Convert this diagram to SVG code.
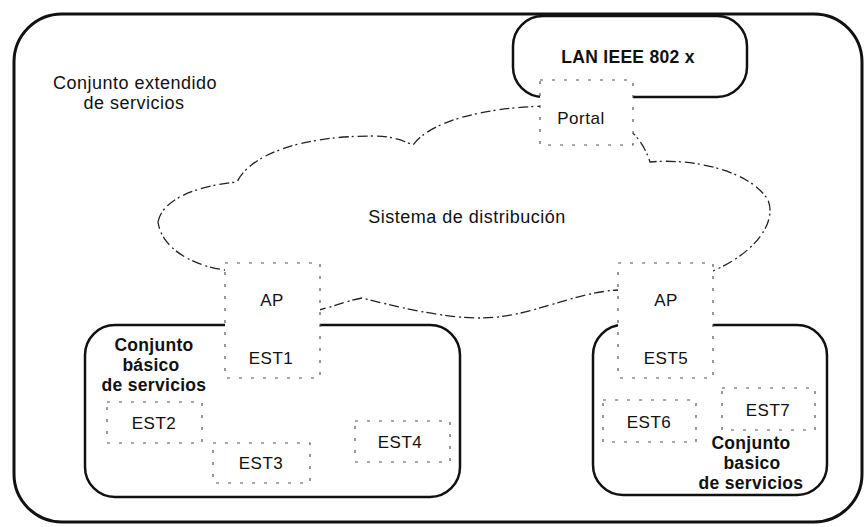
<svg xmlns="http://www.w3.org/2000/svg" width="864" height="527" viewBox="0 0 864 527">
<style>
.frame{fill:none;stroke:#111;stroke-width:3}
.box{fill:#fff;stroke:#111;stroke-width:2.5}
.cloud{fill:#fff;stroke:#222;stroke-width:1.3;stroke-dasharray:10 3 2 4}
.sta{fill:#fff;stroke:#555;stroke-width:1.2;stroke-dasharray:3 9}
.sta2{fill:none;stroke:#555;stroke-width:1.2;stroke-dasharray:3 9}
text{font-family:"Liberation Sans",Arial,sans-serif;fill:#111;text-anchor:middle;letter-spacing:0.5px}
.t18{font-size:18px}
.t17{font-size:17px}
.b{font-weight:bold;font-size:17.5px;letter-spacing:0.3px}
</style>
<rect width="864" height="527" fill="#fff"/>
<g id="ess">
<rect class="frame" x="14" y="14" width="848" height="508" rx="48" ry="48"/>
<text class="t18" x="135" y="89">Conjunto extendido</text>
<text class="t18" x="134" y="109">de servicios</text>
</g>
<g id="lan">
<rect class="box" x="513" y="16" width="234" height="81" rx="30" ry="30"/>
<text class="b" x="628" y="63">LAN IEEE 802 x</text>
</g>
<g id="ds">
<path class="cloud" d="M158,222 C162,200 195,186 237,182 C250,155 300,136 373,136 C390,136 402,140 413,145 C430,122 480,108 545,106 C610,104 640,130 650,162 C690,158 750,170 768,200 C778,225 750,255 715,270 C690,285 650,288 618,290 C570,293 530,318 480,318 C440,318 390,305 362,298 C350,300 335,306 319,310 L225,270 C195,266 162,250 158,222 Z"/>
<text class="t18" x="467" y="223">Sistema de distribución</text>
</g>
<g id="bss1">
<rect class="box" x="85" y="325" width="375" height="172" rx="30" ry="30"/>
<text class="b" x="154" y="351">Conjunto</text>
<text class="b" x="151" y="371">básico</text>
<text class="b" x="154" y="391">de servicios</text>
</g>
<g id="bss2">
<rect class="box" x="593" y="325" width="234" height="170" rx="30" ry="30"/>
<text class="b" x="751" y="449">Conjunto</text>
<text class="b" x="752" y="469">basico</text>
<text class="b" x="751" y="489">de servicios</text>
</g>
<g id="portal">
<rect class="sta" x="540" y="80" width="93" height="65"/>
<text class="t17" x="581" y="124">Portal</text>
</g>
<g id="ap1">
<rect class="sta" x="225" y="263" width="95" height="115"/>
<text class="t17" x="272" y="306">AP</text>
<text class="t17" x="271" y="364">EST1</text>
</g>
<g id="ap2">
<rect class="sta" x="618" y="263" width="95" height="115"/>
<text class="t17" x="666" y="306">AP</text>
<text class="t17" x="666" y="364">EST5</text>
</g>
<g id="est2">
<rect class="sta2" x="107" y="402" width="95" height="41"/>
<text class="t17" x="154" y="429">EST2</text>
</g>
<g id="est3">
<rect class="sta2" x="213" y="443" width="97" height="40"/>
<text class="t17" x="261" y="469">EST3</text>
</g>
<g id="est4">
<rect class="sta2" x="355" y="421" width="95" height="41"/>
<text class="t17" x="400" y="448">EST4</text>
</g>
<g id="est6">
<rect class="sta2" x="603" y="400" width="93" height="42"/>
<text class="t17" x="649" y="428">EST6</text>
</g>
<g id="est7">
<rect class="sta2" x="722" y="388" width="93" height="42"/>
<text class="t17" x="768" y="416">EST7</text>
</g>
<g id="connectors"/>
</svg>
